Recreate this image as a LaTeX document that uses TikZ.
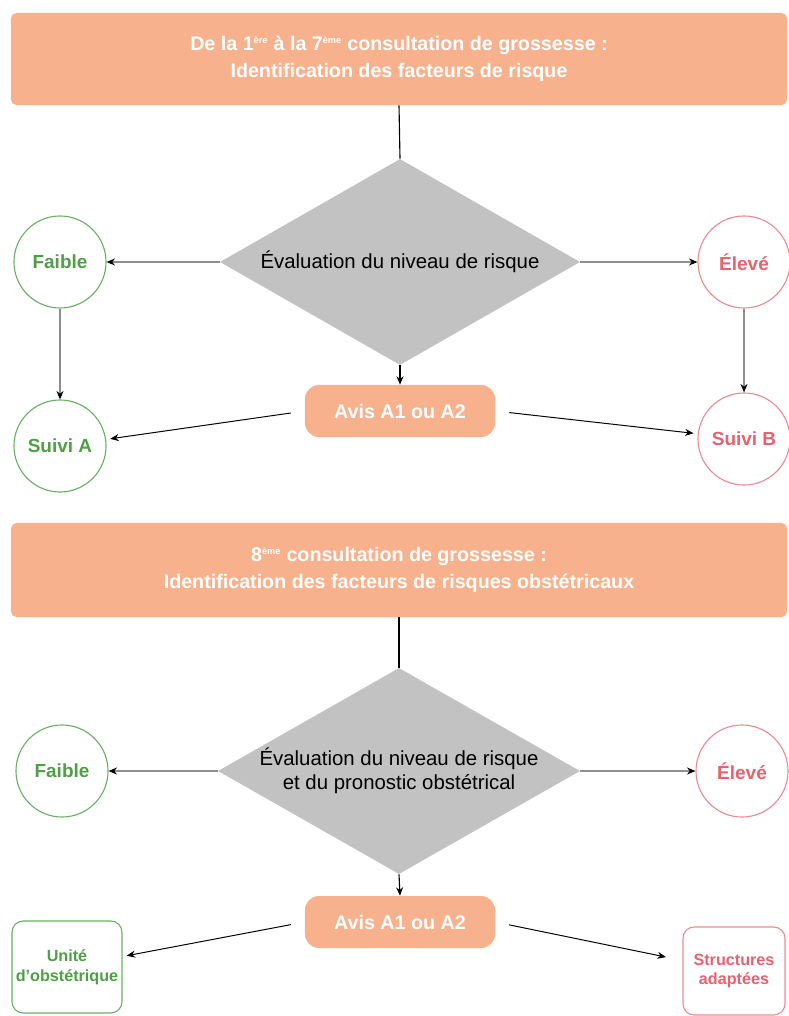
\documentclass[tikz,border=0pt]{standalone}
\usepackage{fontspec}
\setmainfont{Liberation Sans}
\usetikzlibrary{shapes.geometric, arrows.meta, positioning}

\definecolor{saumon}{HTML}{F7B18C}
\definecolor{vert}{HTML}{4E9F45}
\definecolor{vertclair}{HTML}{6AB165}
\definecolor{rouge}{HTML}{E9606E}
\definecolor{rougeclair}{HTML}{EE8A92}
\definecolor{gris}{HTML}{C2C2C2}
\definecolor{trait}{HTML}{8E8E8E}

\newcommand{\expo}[1]{\textsuperscript{\fontsize{6.5}{7}\selectfont #1}}

\tikzset{
    titre/.style={rectangle, rounded corners=4pt, fill=saumon, text=white,
        minimum width=19.4cm, minimum height=2.3cm, align=center,
        font=\bfseries\fontsize{14}{19.5}\selectfont},
    losange/.style={diamond, fill=gris, minimum width=9cm, minimum height=5.15cm,
        shape aspect=1.74, inner sep=0pt, align=center,
        font=\fontsize{14.5}{17}\selectfont},
    avis/.style={rectangle, rounded corners=10pt, fill=saumon, text=white,
        minimum width=4.75cm, minimum height=1.3cm, font=\bfseries\fontsize{14}{16}\selectfont},
    rond/.style={circle, draw=#1, line width=0.8pt, minimum size=2.3cm,
        inner sep=0pt, font=\bfseries\fontsize{13.5}{16}\selectfont},
    carte/.style={rectangle, rounded corners=8pt, draw=#1, line width=0.8pt,
        align=center, inner sep=0pt, font=\bfseries\fontsize{11.5}{14}\selectfont},
    gfleche/.style={draw=trait, line width=1.5pt, -{Stealth[black, length=6pt, width=5pt]}},
    nfleche/.style={draw=black, line width=0.7pt, -{Stealth[length=6pt, width=5pt]},
        shorten <=10pt, shorten >=3pt}
}

\begin{document}
\begin{tikzpicture}[x=0.025cm, y=-0.025cm]
    \useasboundingbox (0,0) rectangle (788,1016);

    % premier bloc
    \node[titre] (titreA) at (399,59)
        {De la 1\expo{ère} à la 7\expo{ème} consultation de grossesse :\\
         Identification des facteurs de risque};
    \node[losange] (evalA) at (400,262) {Évaluation du niveau de risque};
    \node[avis] (avisA) at (400,411) {Avis A1 ou A2};
    \node[rond=vertclair, text=vert] (faibleA) at (60,262) {Faible};
    \node[rond=rougeclair, text=rouge] (eleveA) at (744,262) {Élevé};
    \node[rond=vertclair, text=vert] (suiviA) at (60,446) {Suivi A};
    \node[rond=rougeclair, text=rouge] (suiviB) at (744,439) {Suivi B};

    \draw[line width=0.8pt] (titreA.south) -- (evalA.north);
    \draw[gfleche] (evalA.west) -- (faibleA);
    \draw[gfleche] (evalA.east) -- (eleveA);
    \draw[gfleche] (faibleA) -- (suiviA);
    \draw[gfleche] (eleveA) -- (suiviB);
    \draw[line width=0.8pt, -{Stealth[length=6pt, width=5pt]}] (evalA.south) -- (avisA.north);
    \draw[nfleche] (avisA.west) -- (suiviA);
    \draw[nfleche] (avisA.east) -- (suiviB);

    % second bloc
    \node[titre, minimum height=2.35cm] (titreB) at (399,570)
        {8\expo{ème} consultation de grossesse :\\
         Identification des facteurs de risques obstétricaux};
    \node[losange, minimum width=9.05cm, minimum height=5.125cm] (evalB) at (399,771)
        {Évaluation du niveau de risque\\et du pronostic obstétrical};
    \node[avis] (avisB) at (400,922) {Avis A1 ou A2};
    \node[rond=vertclair, text=vert] (faibleB) at (62,771) {Faible};
    \node[rond=rougeclair, text=rouge] (eleveB) at (742,771) {Élevé};
    \node[carte=vertclair, text=vert, minimum width=2.75cm, minimum height=2.3cm]
        (unite) at (67,967) {Unité\\d'obstétrique};
    \node[carte=rougeclair, text=rouge, minimum width=2.55cm, minimum height=2.2cm]
        (structures) at (734,971) {Structures\\adaptées};

    \draw[line width=0.8pt] (titreB.south) -- (evalB.north);
    \draw[gfleche] (evalB.west) -- (faibleB);
    \draw[gfleche] (evalB.east) -- (eleveB);
    \draw[line width=0.8pt, -{Stealth[length=6pt, width=5pt]}] (evalB.south) -- (avisB.north);
    \draw[nfleche] (avisB.west) -- (unite);
    \draw[nfleche, shorten >=12pt] (avisB.east) -- (structures);
\end{tikzpicture}
\end{document}
